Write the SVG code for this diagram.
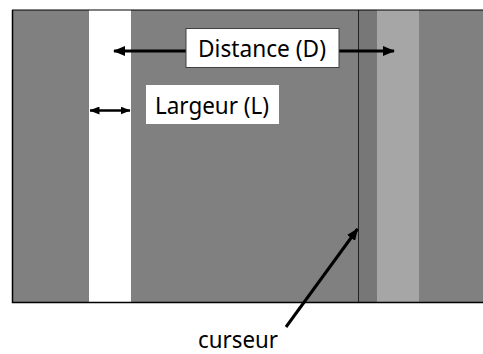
<svg xmlns="http://www.w3.org/2000/svg" width="483" height="354" viewBox="0 0 483 354">
<style>
.lbl{font-family:"Noto Sans","Open Sans","DejaVu Sans",sans-serif;font-size:23px;fill:#000}
.arr{stroke:#000;stroke-width:3;fill:none}
.arr2{stroke:#000;stroke-width:2.5;fill:none}
</style>
<defs>
<marker id="ah" markerUnits="userSpaceOnUse" markerWidth="12" markerHeight="10" refX="11" refY="5" orient="auto-start-reverse" viewBox="0 0 12 10">
<path d="M0,0 L12,5 L0,10 Z" fill="#000"/>
</marker>
<marker id="ah2" markerUnits="userSpaceOnUse" markerWidth="10" markerHeight="8" refX="9.5" refY="4" orient="auto-start-reverse" viewBox="0 0 10 8">
<path d="M0,0 L10,4 L0,8 Z" fill="#000"/>
</marker>
</defs>
<rect width="483" height="354" fill="#fff"/>
<g id="background">
<rect x="12" y="10" width="471" height="292" fill="#808080"/>
<rect x="89" y="10" width="42" height="292" fill="#fff"/>
<rect x="358" y="10" width="19" height="292" fill="#777777"/>
<rect x="377" y="10" width="42" height="292" fill="#a6a6a6"/>
<line x1="358.5" y1="10" x2="358.5" y2="302" stroke="#222" stroke-width="1"/>
<path d="M12.5,10 V302.5 H483" fill="none" stroke="#000" stroke-width="1.5"/>
<line x1="12" y1="10" x2="483" y2="10" stroke="#000" stroke-width="1"/>
</g>
<g id="connectors">
<line class="arr" x1="186" y1="51" x2="114" y2="51" marker-end="url(#ah)"/>
<line class="arr" x1="339" y1="51" x2="394" y2="51" marker-end="url(#ah)"/>
<line class="arr2" x1="90" y1="110.5" x2="130" y2="110.5" marker-start="url(#ah2)" marker-end="url(#ah2)"/>
<line class="arr" x1="286" y1="327" x2="357.5" y2="229" marker-end="url(#ah)"/>
</g>
<g id="distance">
<rect x="186" y="28.5" width="153" height="39" fill="#fff" stroke="#404040" stroke-width="1"/>
<text class="lbl" x="198" y="57.3" textLength="128" lengthAdjust="spacingAndGlyphs">Distance (D)</text>
</g>
<g id="largeur">
<rect x="146" y="85" width="133" height="39" fill="#fff"/>
<text class="lbl" x="155" y="114" textLength="114" lengthAdjust="spacingAndGlyphs">Largeur (L)</text>
</g>
<g id="curseur">
<text class="lbl" x="198" y="348.3" textLength="80" lengthAdjust="spacingAndGlyphs">curseur</text>
</g>
</svg>
